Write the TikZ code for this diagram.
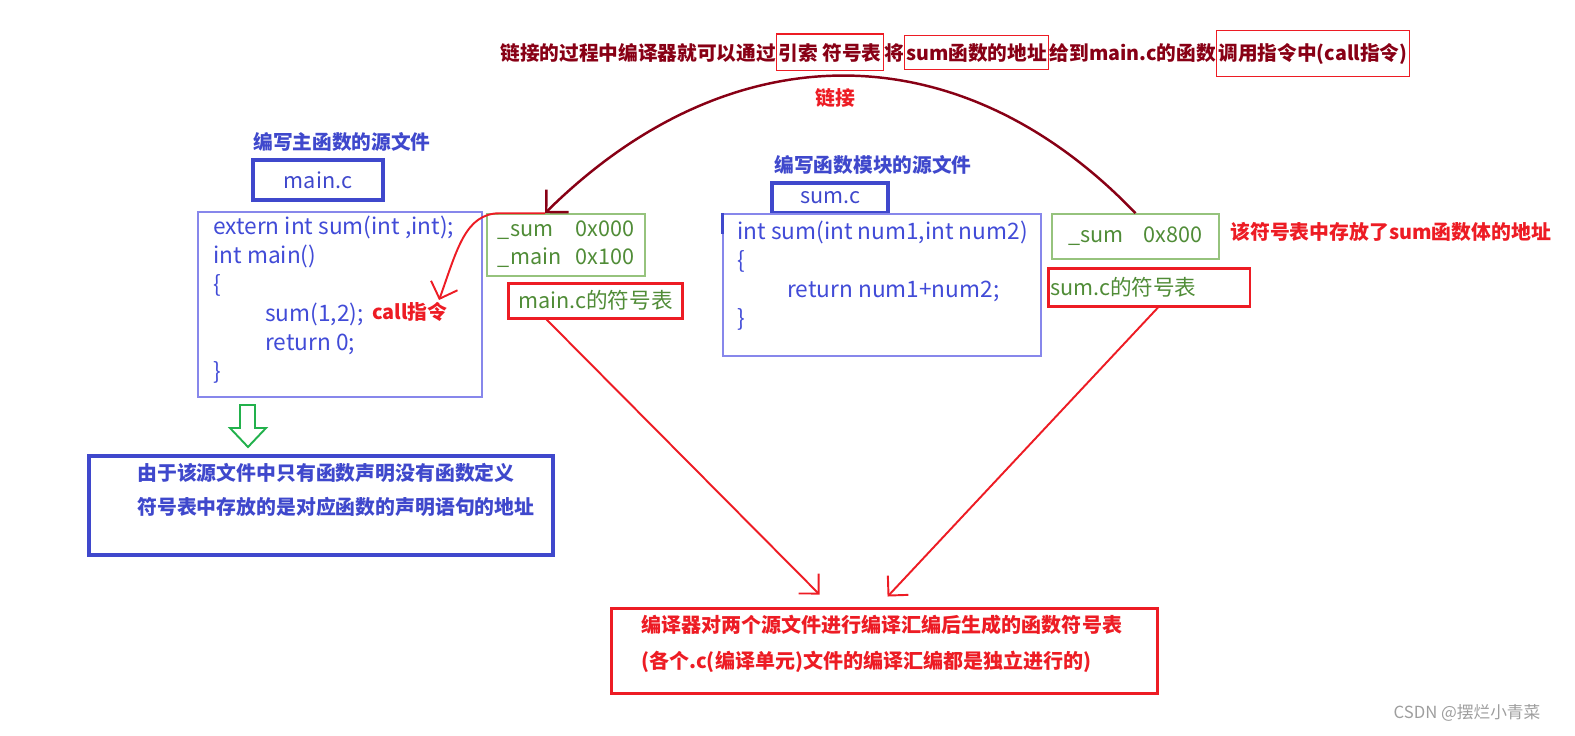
\documentclass[tikz,border=0pt]{standalone}
\usepackage{fontspec}
\setmainfont{Noto Sans CJK SC}
\usetikzlibrary{arrows.meta,positioning,calc}
\definecolor{titleblue}{RGB}{63,72,204}
\definecolor{codetext}{RGB}{65,75,215}
\definecolor{codeline}{RGB}{135,135,235}
\definecolor{tabgreen}{RGB}{150,195,125}
\definecolor{symgreen}{RGB}{80,140,55}
\definecolor{markred}{RGB}{237,28,36}
\definecolor{linkred}{RGB}{136,0,21}
\definecolor{hollowgreen}{RGB}{34,177,76}

\begin{document}
\begin{tikzpicture}[x=0.02cm, y=-0.02cm,
  toptext/.style={font=\fontsize{11.2}{14}\selectfont\bfseries, text=linkred, inner sep=0pt, anchor=base west},
  hilite/.style={toptext, draw=markred, line width=0.6pt, inner xsep=1pt},
  title/.style={font=\fontsize{11.2}{14}\selectfont\bfseries, text=titleblue, inner sep=0pt},
  filebox/.style={draw=titleblue, line width=2pt, text=titleblue, font=\fontsize{12.3}{14}\selectfont, inner sep=0pt},
  codebox/.style={draw=codeline, line width=0.8pt, inner sep=0pt},
  code/.style={text=codetext, font=\fontsize{12.9}{16.5}\selectfont, align=left, anchor=north west, inner sep=0pt},
  symtab/.style={draw=tabgreen, line width=0.9pt, text=symgreen, font=\fontsize{12.3}{16}\selectfont, inner sep=0pt},
  symlabel/.style={draw=markred, line width=1.7pt, text=symgreen, font=\fontsize{12.3}{14}\selectfont, inner sep=0pt},
  rednote/.style={font=\fontsize{11.3}{14}\selectfont\bfseries, text=markred, inner sep=0pt},
  bignote/.style={font=\fontsize{11.3}{19.5}\selectfont\bfseries, align=left, anchor=north west, inner sep=0pt},
  hand/.style={-{Straight Barb[length=8pt,width=16pt]}, line width=1.1pt, markred},
  linkarrow/.style={-{Straight Barb[length=9pt,width=18pt]}, line width=1.4pt, linkred}]
\useasboundingbox (0,0) rectangle (1575,735);
\node[toptext] (t1) at (500,60) {链接的过程中编译器就可以通过};
\node[hilite, minimum height=0.74cm] (t2) at (t1.base east) {引索 符号表};
\node[toptext] (t3) at (t2.base east) {将};
\node[hilite, minimum height=0.68cm] (t4) at (t3.base east) {sum函数的地址};
\node[toptext] (t5) at (t4.base east) {给到main.c的函数};
\node[hilite, minimum height=0.92cm] (t6) at (t5.base east) {调用指令中(call指令)};
\node[rednote] (linkNote) at (835,98) {链接};
\node[title] (titleL) at (342,142) {编写主函数的源文件};
\node[filebox, minimum width=2.6cm, minimum height=0.8cm] (mainc) at (318,180) {main.c};
\node[codebox, minimum width=5.68cm, minimum height=3.7cm] (codeL) at (340,304.5) {};
\node[code] (codeLtxt) at (213,216) {extern int sum(int ,int);\\int main()\\\{\\\hspace*{1.04cm}sum(1,2);\\\hspace*{1.04cm}return 0;\\\}};
\node[rednote, anchor=west] (callNote) at (372,312) {call指令};
\node[symtab, minimum width=3.16cm, minimum height=1.24cm] (symL) at (566,245) {\begin{tabular}{@{}l@{\hspace{0.28cm}}r@{}}\_sum & 0x000\\\_main & 0x100\end{tabular}};
\node[symlabel, minimum width=3.5cm, minimum height=0.7cm] (lblL) at (595.5,300.5) {main.c的符号表};
\node[title] (titleR) at (873,165) {编写函数模块的源文件};
\node[filebox, minimum width=2.32cm, minimum height=0.6cm] (sumc) at (830,198) {sum.c};
\node[codebox, minimum width=6.36cm, minimum height=2.84cm] (codeR) at (882,285) {};
\node[code] (codeRtxt) at (737,221) {int sum(int num1,int num2)\\\{\\\hspace*{1.0cm}return num1+num2;\\\}};
\draw[titleblue, line width=1.5pt] (codeR.north west) -- ++(0,21);
\node[symtab, minimum width=3.34cm, minimum height=0.9cm] (symR) at (1135.5,236.5) {\_sum\hspace{0.4cm}0x800};
\node[rednote, anchor=west] (bodyNote) at (1230,232) {该符号表中存放了sum函数体的地址};
\node[symlabel, minimum width=4.04cm, minimum height=0.76cm, text width=3.96cm, align=left] (lblR) at (1149,287) {sum.c的符号表};
\node[filebox, minimum width=9.28cm, minimum height=1.98cm] (declBox) at (321,505.5) {};
\node[bignote, text=titleblue] (declTxt) at (137,463) {由于该源文件中只有函数声明没有函数定义\\符号表中存放的是对应函数的声明语句的地址};
\node[symlabel, minimum width=10.94cm, minimum height=1.7cm] (compile) at (884.5,650.5) {};
\node[bignote, text=markred, font=\fontsize{11.4}{20.4}\selectfont\bfseries] (compileTxt) at (641,615) {编译器对两个源文件进行编译汇编后生成的函数符号表\\(各个.c(编译单元)文件的编译汇编都是独立进行的)};
\node[text=black!38, font=\fontsize{9.5}{11}\selectfont, inner sep=0pt] (mark) at (1467,713) {CSDN @摆烂小青菜};
\draw[hollowgreen, line width=1.1pt, line join=miter] (240,405) -- (255,405) -- (255,428) -- (266,428) -- (248,447) -- (230,428) -- (240,428) -- cycle;
\coordinate (linkEnd) at ($(symL.north)+(-21,0)$);
\draw[linkarrow] (symR.north) .. controls (960,30) and (730,30) .. (linkEnd);
\draw[hand] (linkEnd) -- ++(-45,0) .. controls +(-35,0) and +(18,-50) .. ($(callNote.north east)+(-9,-2)$);
\draw[hand] ($(lblL.south west)+(40,0)$) -- ($(compile.north west)+(210,-12)$);
\draw[hand] ($(lblR.south)+(9,0)$) -- ($(compile.north west)+(278,-10)$);
\end{tikzpicture}
\end{document}
